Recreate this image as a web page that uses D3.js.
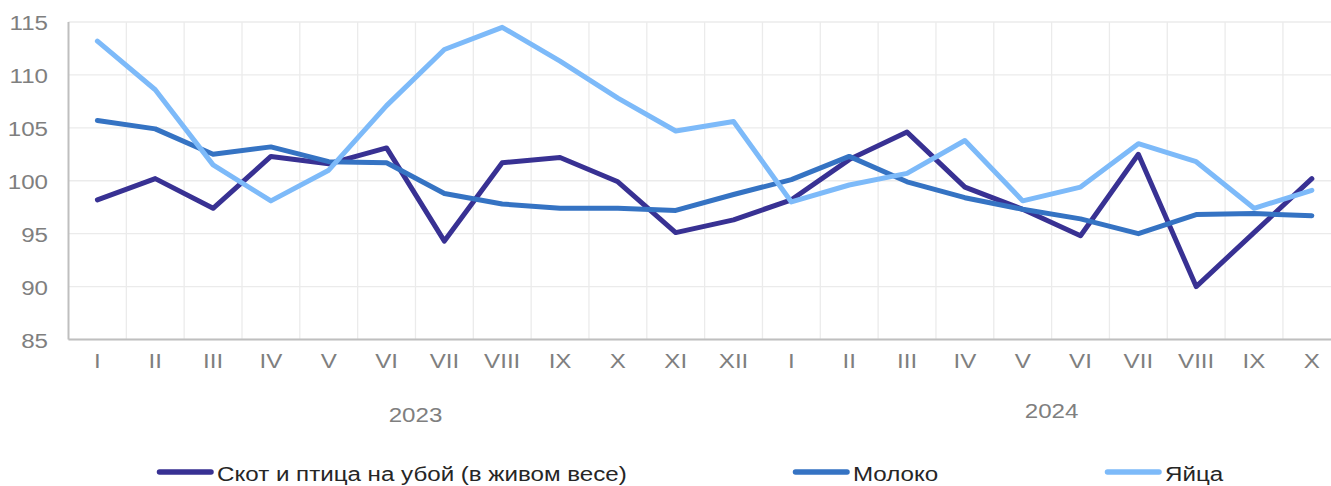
<!DOCTYPE html>
<html>
<head>
<meta charset="utf-8">
<script src="https://cdn.jsdelivr.net/npm/d3@7"></script>
<style>
  body { margin: 0; background: #fff; }
  text { font-family: "Liberation Sans", Arial, sans-serif; }
</style>
</head>
<body>
<div id="chart"></div>
<script>
// data
const months = ["I","II","III","IV","V","VI","VII","VIII","IX","X","XI","XII",
                "I","II","III","IV","V","VI","VII","VIII","IX","X"];
const years = [{label: "2023", from: 0, count: 12}, {label: "2024", from: 12, count: 10}];
const livestock = [98.2,100.2,97.4,102.3,101.6,103.1,94.3,101.7,102.2,99.9,95.1,96.3,
                   98.2,102.0,104.6,99.4,97.3,94.8,102.5,90.0,95.1,100.2];
const milk = [105.7,104.9,102.5,103.2,101.8,101.7,98.8,97.8,97.4,97.4,97.2,98.7,
              100.1,102.3,99.9,98.4,97.3,96.4,95.0,96.8,96.9,96.7];
const eggs = [113.2,108.6,101.5,98.1,101.0,107.1,112.4,114.5,111.3,107.8,104.7,105.6,
              98.0,99.6,100.7,103.8,98.1,99.4,103.5,101.8,97.4,99.1];
const yTicks = [85,90,95,100,105,110,115];

const series = [
  {name: "Скот и птица на убой (в живом весе)", values: livestock, color: "#383193", lx: 157},
  {name: "Молоко", values: milk, color: "#3573c3", lx: 793},
  {name: "Яйца", values: eggs, color: "#7dbaf9", lx: 1105}
];

const W = 1331, H = 486;
const plotLeft = 68.5, bandW = 57.83, plotTop = 22, plotBottom = 339.5;
const fs = 21, stretch = 1.15; // text in the picture is a bit wide

const svg = d3.select("#chart").append("svg")
  .attr("width", W).attr("height", H);

const x = d3.scaleBand()
  .domain(d3.range(months.length))
  .range([plotLeft, plotLeft + bandW * months.length]);
const y = d3.scaleLinear().domain([85, 115]).range([plotBottom, plotTop]);

function place(px, py) {
  return "translate(" + px + "," + py + ") scale(" + stretch + ",1)";
}

// grid
svg.append("g").selectAll("line")
  .data(yTicks).enter().append("line")
  .attr("x1", plotLeft).attr("x2", W)
  .attr("y1", d => y(d)).attr("y2", d => y(d))
  .attr("stroke", "#ebebeb").attr("stroke-width", 1.3);

svg.append("g").selectAll("line")
  .data(d3.range(1, months.length)).enter().append("line")
  .attr("x1", d => x(d)).attr("x2", d => x(d))
  .attr("y1", plotTop).attr("y2", plotBottom)
  .attr("stroke", "#ebebeb").attr("stroke-width", 1.3);

// axes lines
svg.append("line").attr("x1", plotLeft).attr("x2", plotLeft).attr("y1", plotTop).attr("y2", plotBottom)
  .attr("stroke", "#bfbfbf").attr("stroke-width", 2);
svg.append("line").attr("x1", plotLeft).attr("x2", W).attr("y1", plotBottom).attr("y2", plotBottom)
  .attr("stroke", "#bfbfbf").attr("stroke-width", 2);

// y labels
svg.append("g").selectAll("text")
  .data(yTicks).enter().append("text")
  .attr("transform", d => place(48, y(d) + 8))
  .attr("text-anchor", "end")
  .attr("font-size", fs).attr("fill", "#7f7f7f")
  .text(d => d);

// x labels
svg.append("g").selectAll("text")
  .data(months).enter().append("text")
  .attr("transform", (d, i) => place(x(i) + bandW / 2, 368))
  .attr("text-anchor", "middle")
  .attr("font-size", fs).attr("fill", "#7f7f7f")
  .text(d => d);

// year labels
svg.append("g").selectAll("text")
  .data(years).enter().append("text")
  .attr("transform", (d, i) => place(x(d.from) + bandW * d.count / 2, i == 0 ? 422 : 418))
  .attr("text-anchor", "middle")
  .attr("font-size", fs).attr("fill", "#7f7f7f")
  .text(d => d.label);

// lines
const line = d3.line()
  .x((d, i) => x(i) + bandW / 2)
  .y(d => y(d));

svg.append("g").selectAll("path")
  .data(series).enter().append("path")
  .attr("d", d => line(d.values))
  .attr("fill", "none")
  .attr("stroke", d => d.color)
  .attr("stroke-width", 5)
  .attr("stroke-linejoin", "round")
  .attr("stroke-linecap", "round");

// legend
const leg = svg.append("g").selectAll("g")
  .data(series).enter().append("g")
  .attr("transform", d => "translate(" + d.lx + ",472)");
leg.append("line")
  .attr("x1", 2.5).attr("x2", 54).attr("y1", 0).attr("y2", 0)
  .attr("stroke", d => d.color).attr("stroke-width", 5.5)
  .attr("stroke-linecap", "round");
leg.append("text")
  .attr("transform", place(60, 9))
  .attr("font-size", fs).attr("fill", "#262626")
  .text(d => d.name);
</script>
</body>
</html>
